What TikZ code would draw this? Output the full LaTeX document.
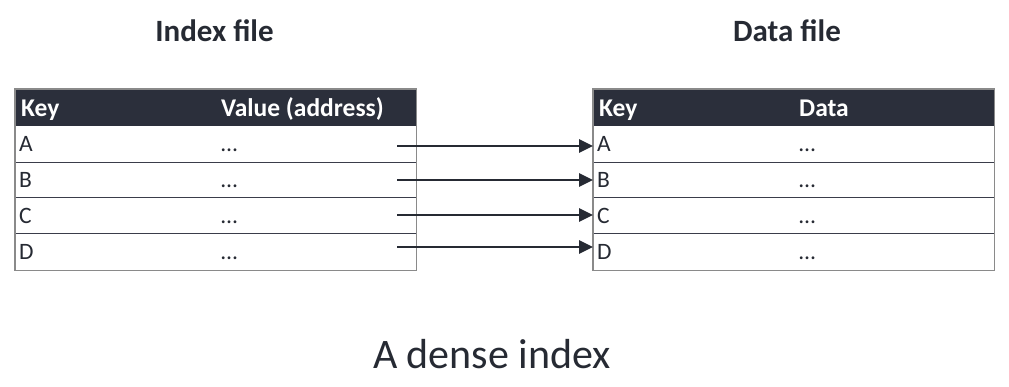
\documentclass[tikz,border=0pt]{standalone}
\usepackage{fontspec}
\setmainfont{Carlito}
\usetikzlibrary{arrows.meta}
\definecolor{hdrcol}{HTML}{2B2F3B}
\definecolor{txtcol}{HTML}{262A33}
\definecolor{sepcol}{HTML}{3A3D4A}
\definecolor{bordcol}{HTML}{8A8A8A}
\tikzset{
  hdr/.style={fill=hdrcol, draw=none, minimum width=401pt, minimum height=37pt, inner sep=0pt, anchor=north west},
  rowbox/.style={draw=none, minimum width=401pt, minimum height=36pt, inner sep=0pt, anchor=north west},
  htext/.style={font=\bfseries\fontsize{25.5}{25.5}\selectfont, text=white, anchor=base west, inner sep=0pt},
  ctext/.style={font=\fontsize{23.5}{23.5}\selectfont, text=txtcol, anchor=base west, inner sep=0pt},
  ttl/.style={font=\bfseries\fontsize{31}{31}\selectfont, text=txtcol, anchor=base, inner sep=0pt},
  capt/.style={font=\fontsize{42}{42}\selectfont, text=txtcol, anchor=base, inner sep=0pt},
  sepline/.style={draw=sepcol, line width=1.1pt},
  outline/.style={draw=bordcol, line width=1.3pt},
  arr/.style={-{Triangle[length=14pt,width=13pt]}, line width=2.6pt, draw=txtcol}
}
\begin{document}
\begin{tikzpicture}[x=1pt,y=-1pt]
\useasboundingbox (0,0) rectangle (1009,386);
% titles
\node[ttl] (t1) at (214.5,41.7) {Index file};
\node[ttl] (t2) at (787,41.7) {Data file};
\node[capt] (cap) at (492,368) {A dense index};
% left table
\node[hdr] (lh) at (15,89) {};
\node[htext] (lhk) at (21,116) {Key};
\node[htext] (lhv) at (221,116) {Value (address)};
\node[rowbox] (lA) at (15,126) {};
\node[rowbox] (lB) at (15,161) {};
\node[rowbox] (lC) at (15,197) {};
\node[rowbox] (lD) at (15,234) {};
\draw[sepline] (lA.south west) -- (lA.south east);
\draw[sepline] (lB.south west) -- (lB.south east);
\draw[sepline] (lC.south west) -- (lC.south east);
\draw[outline] (lh.north west) rectangle (lD.south east);
\node[ctext] (lAk) at (19,151.5) {A};
\node[ctext] (lBk) at (19,187.5) {B};
\node[ctext] (lCk) at (19,223.5) {C};
\node[ctext] (lDk) at (19,259.5) {D};
\node[ctext] (lAv) at (221,151.5) {…};
\node[ctext] (lBv) at (221,187.5) {…};
\node[ctext] (lCv) at (221,223.5) {…};
\node[ctext] (lDv) at (221,259.5) {…};
% right table
\node[hdr] (rh) at (593,89) {};
\node[htext] (rhk) at (599,116) {Key};
\node[htext] (rhv) at (799,116) {Data};
\node[rowbox] (rA) at (593,126) {};
\node[rowbox] (rB) at (593,161) {};
\node[rowbox] (rC) at (593,197) {};
\node[rowbox] (rD) at (593,234) {};
\draw[sepline] (rA.south west) -- (rA.south east);
\draw[sepline] (rB.south west) -- (rB.south east);
\draw[sepline] (rC.south west) -- (rC.south east);
\draw[outline] (rh.north west) rectangle (rD.south east);
\node[ctext] (rAk) at (597,151.5) {A};
\node[ctext] (rBk) at (597,187.5) {B};
\node[ctext] (rCk) at (597,223.5) {C};
\node[ctext] (rDk) at (597,259.5) {D};
\node[ctext] (rAv) at (799,151.5) {…};
\node[ctext] (rBv) at (799,187.5) {…};
\node[ctext] (rCv) at (799,223.5) {…};
\node[ctext] (rDv) at (799,259.5) {…};
% arrows
\coordinate (sA) at (397,146);
\coordinate (sB) at (397,180);
\coordinate (sC) at (397,215);
\coordinate (sD) at (397,247);
\coordinate (eA) at (593,146);
\coordinate (eB) at (593,180);
\coordinate (eC) at (593,215);
\coordinate (eD) at (593,247);
\draw[arr] (sA) -- (eA);
\draw[arr] (sB) -- (eB);
\draw[arr] (sC) -- (eC);
\draw[arr] (sD) -- (eD);
\end{tikzpicture}
\end{document}
